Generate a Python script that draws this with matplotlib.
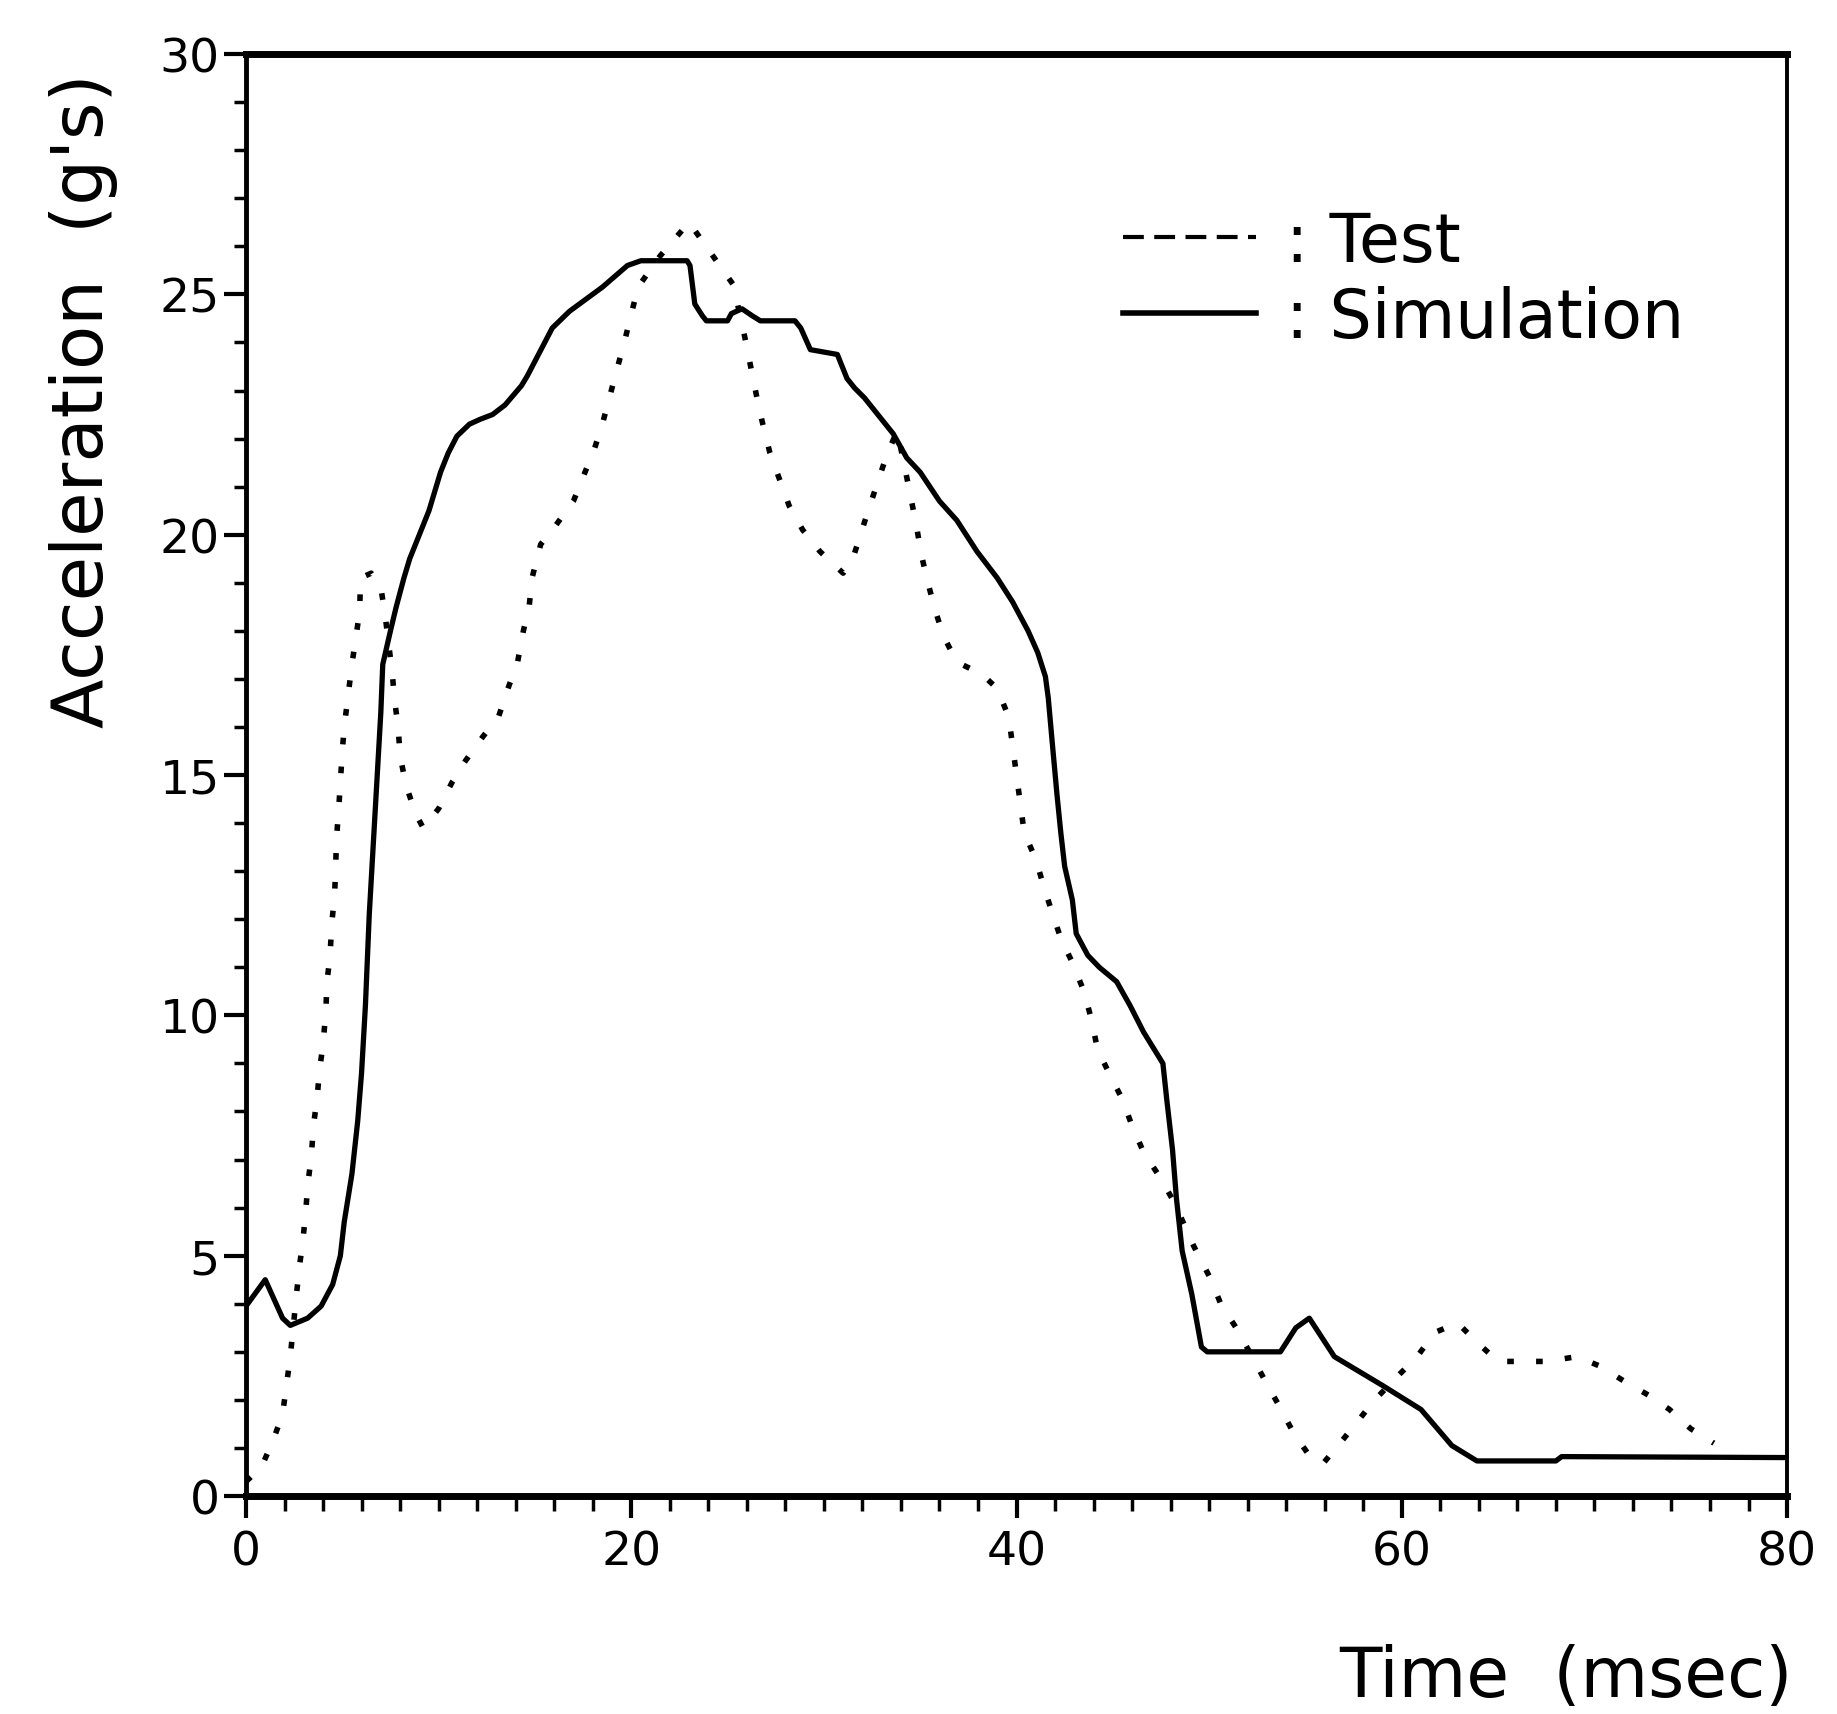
import matplotlib
matplotlib.use("Agg")
import matplotlib.pyplot as plt
from matplotlib.lines import Line2D
from matplotlib.ticker import MultipleLocator

# ---- data ----
sim_t = [0, 1.0, 1.9, 2.3, 3.2, 3.9, 4.5, 4.9, 5.1, 5.5, 5.8, 6.0, 6.2, 6.4, 6.6, 6.8,
         7.0, 7.1, 7.5, 7.8, 8.2, 8.5, 9.0, 9.5, 10.1, 10.5, 10.95, 11.6, 12.15, 12.8,
         13.45, 14.3, 14.6, 15.9, 16.8, 18.5, 19.8, 20.5, 22.9, 23.05, 23.3, 23.7, 23.9,
         25.0, 25.2, 25.75, 26.3, 26.7, 28.5, 28.8, 29.3, 30.7, 31.2, 31.6, 32.1, 33.6,
         34.3, 35.0, 36.0, 36.9, 37.95, 39.0, 39.8, 40.6, 41.1, 41.5, 41.65, 41.85, 42.1,
         42.3, 42.5, 42.9, 43.1, 43.7, 44.3, 45.2, 45.9, 46.6, 47.6, 47.8, 48.1, 48.3,
         48.6, 49.1, 49.6, 49.9, 53.7, 54.5, 55.2, 56.5, 59.0, 61.0, 62.6, 63.9, 68.0,
         68.3, 80.0]
sim_a = [3.95, 4.5, 3.7, 3.55, 3.7, 3.95, 4.4, 5.0, 5.7, 6.7, 7.8, 8.8, 10.2, 12.1, 13.5, 14.9,
         16.3, 17.3, 18.0, 18.5, 19.1, 19.5, 20.0, 20.5, 21.3, 21.7, 22.05, 22.3, 22.4, 22.5,
         22.7, 23.1, 23.3, 24.3, 24.65, 25.15, 25.6, 25.7, 25.7, 25.6, 24.8, 24.55, 24.45,
         24.45, 24.6, 24.7, 24.55, 24.45, 24.45, 24.3, 23.85, 23.75, 23.25, 23.05, 22.85, 22.1,
         21.6, 21.3, 20.7, 20.3, 19.65, 19.1, 18.6, 18.0, 17.55, 17.05, 16.6, 15.7, 14.6,
         13.8, 13.1, 12.4, 11.7, 11.25, 11.0, 10.7, 10.2, 9.65, 9.0, 8.25, 7.2, 6.2,
         5.1, 4.2, 3.1, 3.0, 3.0, 3.5, 3.7, 2.9, 2.3, 1.8, 1.05, 0.73, 0.73,
         0.82, 0.8]

test_t = [0, 0.8, 1.4, 1.9, 2.1, 2.3, 2.6, 2.75, 2.95, 3.1, 3.2, 3.4, 3.5, 3.7, 3.8, 4.0,
          4.15, 4.2, 4.36, 4.45, 4.6, 4.65, 4.7, 4.8, 4.9, 5.0, 5.1, 5.5, 5.9, 5.95, 6.5,
          7.0, 7.2, 7.6, 7.7, 7.9, 8.0, 8.3, 8.8, 9.2, 10.0, 10.7, 11.4, 12.3, 13.1, 13.6,
          14.1, 14.4, 14.7, 14.85, 15.3, 16.0, 17.0, 17.5, 18.1, 18.5, 19.7, 20.35, 21.5,
          23.0, 25.3, 25.9, 26.2, 26.5, 26.8, 27.2, 27.7, 28.2, 28.9, 29.8, 31.0, 31.5,
          31.9, 32.3, 32.8, 33.3, 33.8, 34.1, 34.5, 34.8, 35.05, 35.4, 35.8, 36.2, 36.9,
          38.2, 39.0, 39.6, 39.8, 40.0, 40.2, 40.4, 41.0, 41.4, 41.8, 42.3, 42.9, 43.5,
          43.9, 44.2, 44.8, 45.5, 46.0, 46.6, 47.5, 48.2, 49.2, 50.1, 50.6, 51.4, 52.3,
          52.9, 53.6, 54.4, 55.1, 55.9, 56.9, 57.7, 58.6, 59.8, 60.8, 61.7, 62.9, 63.9,
          65.0, 67.5, 69.1, 70.3, 71.5, 72.8, 73.9, 75.0, 76.2]
test_a = [0.3, 0.6, 1.15, 1.7, 2.3, 2.9, 4.1, 4.7, 5.3, 5.9, 6.45, 7.1, 7.7, 8.3, 8.8, 9.4,
          10.1, 10.7, 11.2, 11.9, 12.5, 13.0, 13.7, 14.2, 14.85, 15.5, 16.0, 17.3, 18.4, 19.1, 19.2,
          18.9, 18.4, 17.1, 16.6, 16.0, 15.4, 14.8, 14.2, 13.9, 14.3, 14.85, 15.3, 15.8, 16.2, 16.8,
          17.35, 18.0, 18.5, 19.1, 19.8, 20.15, 20.7, 21.2, 21.8, 22.3, 24.1, 25.15, 25.8,
          26.5, 25.2, 24.1, 23.5, 22.9, 22.35, 21.7, 21.15, 20.6, 20.1, 19.65, 19.2, 19.5,
          20.0, 20.5, 21.1, 21.7, 22.15, 21.6, 20.8, 20.2, 19.6, 19.0, 18.4, 17.9, 17.35,
          17.1, 16.8, 16.2, 15.6, 15.0, 14.4, 13.8, 13.25, 12.7, 12.2, 11.6, 11.1, 10.5,
          9.9, 9.3, 8.8, 8.25, 7.7, 7.15, 6.6, 6.1, 5.2, 4.5, 4.0, 3.5, 2.85,
          2.4, 1.9, 1.3, 0.9, 0.67, 1.15, 1.55, 2.0, 2.5, 2.9, 3.4, 3.6, 3.2,
          2.8, 2.8, 2.9, 2.7, 2.4, 2.1, 1.8, 1.4, 1.1]

x_ticks = [0, 20, 40, 60, 80]
y_ticks = [0, 5, 10, 15, 20, 25, 30]
x_label = "Time  (msec)"
y_label = "Acceleration  (g's)"
legend_labels = [": Test", ": Simulation"]

# ---- figure ----
plt.rcParams['font.family'] = ['DejaVu Sans']
fig = plt.figure(figsize=(18.37, 17.15), dpi=100)
ax = fig.add_axes([0.1339, 0.1271, 0.8389, 0.8408])

ax.plot(test_t, test_a, color='black', lw=4.0, linestyle=(0, (1.2, 4.0)),
        dash_capstyle='butt', solid_joinstyle='round')
ax.plot(sim_t, sim_a, color='black', lw=3.8, solid_joinstyle='round')

ax.set_xlim(0, 80)
ax.set_ylim(0, 30)
ax.set_xticks(x_ticks)
ax.set_yticks(y_ticks)
ax.xaxis.set_minor_locator(MultipleLocator(2))
ax.yaxis.set_minor_locator(MultipleLocator(1))
ax.tick_params(axis='both', which='major', direction='out', length=16, width=3,
               labelsize=34, color='black')
ax.tick_params(axis='x', which='major', pad=8)
ax.tick_params(axis='y', which='major', pad=3)
ax.tick_params(axis='x', which='minor', direction='out', length=11, width=2.5)
ax.tick_params(axis='y', which='minor', direction='out', length=9, width=2.5)

ax.spines['top'].set_linewidth(5)
ax.spines['bottom'].set_linewidth(5)
ax.spines['left'].set_linewidth(3.5)
ax.spines['right'].set_linewidth(2.8)

fig.text(84 / 1837, 1 - 401 / 1715, y_label, rotation=90, ha='center', va='center',
         fontsize=52)
fig.text(1793 / 1837, 1 - 1678 / 1715, x_label, ha='right', va='center', fontsize=50)

h_test = Line2D([], [], color='black', lw=3, linestyle=(0, (5, 2.5)))
h_sim = Line2D([], [], color='black', lw=4)
ax.legend([h_test, h_sim], legend_labels, loc='center left',
          bbox_to_anchor=(0.569, 0.8436), frameon=False, fontsize=48,
          handlelength=2.0, handletextpad=0.45, labelspacing=0.15, borderpad=0,
          borderaxespad=0)

fig.savefig("out.png", dpi=100, facecolor='white')
